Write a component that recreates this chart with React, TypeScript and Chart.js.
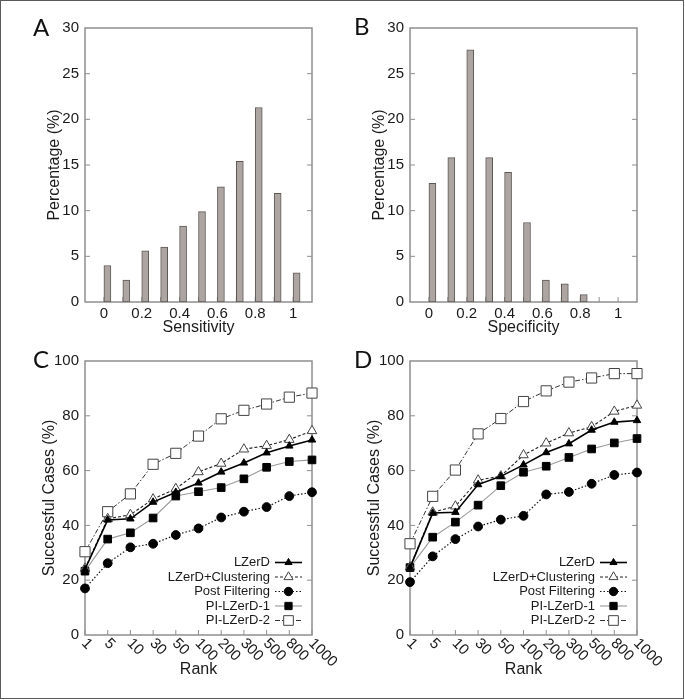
import React, { useEffect, useRef } from 'react';
import { Chart, registerables } from 'chart.js';

Chart.register(...registerables);

const FONT = '"Liberation Sans", Arial, Helvetica, sans-serif';
const LETTER_FONT = 'Lato, "Open Sans", sans-serif';
const TEXT = '#1a1a1a';
const FRAME = '#8f8f8f';
const BAR_FILL = '#aca5a1';
const BAR_EDGE = '#5f5956';

// ---------- data ----------
const histBins = [0, 0.1, 0.2, 0.3, 0.4, 0.5, 0.6, 0.7, 0.8, 0.9, 1.0];
const histTickValues = [0, 0.2, 0.4, 0.6, 0.8, 1];
const histTickLabels = ['0', '0.2', '0.4', '0.6', '0.8', '1'];
const sensitivityPct = [4.0, 2.4, 5.6, 6.0, 8.3, 9.9, 12.6, 15.4, 21.3, 11.9, 3.2];
const specificityPct = [13.0, 15.8, 27.6, 15.8, 14.2, 8.7, 2.4, 2.0, 0.8, 0, 0];

const ranks = ['1', '5', '10', '30', '50', '100', '200', '300', '500', '800', '1000'];
const seriesNames = ['LZerD', 'LZerD+Clustering', 'Post Filtering', 'PI-LZerD-1', 'PI-LZerD-2'];

const cLZerD = [24.0, 42.0, 42.4, 48.5, 52.1, 55.5, 59.5, 62.8, 66.5, 69.0, 71.2];
const cClustering = [24.3, 42.4, 43.9, 49.6, 53.4, 59.5, 62.6, 67.8, 69.1, 71.3, 74.5];
const cPostFiltering = [17.0, 26.2, 32.0, 33.3, 36.5, 38.9, 42.9, 45.0, 46.7, 50.7, 52.1];
const cPI1 = [23.3, 35.0, 37.3, 42.7, 50.7, 52.3, 53.8, 57.0, 61.2, 63.3, 63.9];
const cPI2 = [30.4, 45.0, 51.5, 62.3, 66.3, 72.6, 78.9, 82.0, 84.3, 86.8, 88.3];

const dLZerD = [24.6, 44.5, 44.8, 54.9, 57.9, 62.1, 66.6, 69.8, 74.8, 77.7, 78.3];
const dClustering = [24.8, 44.8, 47.0, 56.5, 58.0, 65.7, 70.0, 73.7, 76.0, 81.6, 83.8];
const dPostFiltering = [19.3, 28.7, 35.0, 39.6, 42.1, 43.5, 51.3, 52.2, 55.2, 58.4, 59.3];
const dPI1 = [24.6, 35.7, 41.2, 47.4, 54.5, 59.4, 61.6, 64.8, 67.9, 70.1, 71.7];
const dPI2 = [33.3, 50.6, 60.2, 73.4, 79.0, 85.2, 89.1, 92.3, 93.8, 95.4, 95.4];

// ---------- styles ----------
const seriesStyles = [
  { borderColor: '#000000', borderWidth: 1.6, borderDash: [] as number[], pointStyle: 'triangle', pointRadius: 4.3, fill: '#000000', edge: '#000000' },
  { borderColor: '#222222', borderWidth: 1.1, borderDash: [3, 2], pointStyle: 'triangle', pointRadius: 5.5, fill: '#ffffff', edge: '#444444' },
  { borderColor: '#111111', borderWidth: 1.2, borderDash: [1.5, 2], pointStyle: 'circle', pointRadius: 4.4, fill: '#000000', edge: '#000000' },
  { borderColor: '#9a9a9a', borderWidth: 1.1, borderDash: [] as number[], pointStyle: 'rect', pointRadius: 5.4, fill: '#000000', edge: '#000000' },
  { borderColor: '#333333', borderWidth: 1.0, borderDash: [5, 2, 1.5, 2], pointStyle: 'rect', pointRadius: 7.2, fill: '#ffffff', edge: '#444444' },
];

function drawMarker(ctx: CanvasRenderingContext2D, style: string, x: number, y: number, r: number, fill: string, edge: string) {
  ctx.save();
  ctx.setLineDash([]);
  ctx.fillStyle = fill;
  ctx.strokeStyle = edge;
  ctx.lineWidth = 1;
  ctx.beginPath();
  if (style === 'triangle') {
    let rad = 0;
    ctx.moveTo(x + Math.sin(rad) * r, y - Math.cos(rad) * r);
    rad += (2 * Math.PI) / 3;
    ctx.lineTo(x + Math.sin(rad) * r, y - Math.cos(rad) * r);
    rad += (2 * Math.PI) / 3;
    ctx.lineTo(x + Math.sin(rad) * r, y - Math.cos(rad) * r);
    ctx.closePath();
  } else if (style === 'circle') {
    ctx.arc(x, y, r, 0, Math.PI * 2);
  } else {
    const s = r * Math.SQRT1_2;
    ctx.rect(x - s, y - s, 2 * s, 2 * s);
  }
  ctx.fill();
  ctx.stroke();
  ctx.restore();
}

type PanelSpec = { letter: string; letterX: number; letterY: number; kind: 'hist' | 'line' };

function makePanelPlugin(p: PanelSpec) {
  return {
    id: 'panel' + p.letter,
    beforeDatasetsDraw(chart: any) {
      const { ctx, chartArea: a, scales } = chart;
      ctx.save();
      ctx.strokeStyle = FRAME;
      ctx.lineWidth = 1.5;
      ctx.strokeRect(a.left, a.top, a.right - a.left, a.bottom - a.top);
      ctx.lineWidth = 1;
      const ys = scales.y;
      ys.ticks.forEach((t: any) => {
        const py = ys.getPixelForValue(t.value);
        if (Math.abs(py - a.top) < 1 || Math.abs(py - a.bottom) < 1) return;
        ctx.beginPath();
        ctx.moveTo(a.left, py);
        ctx.lineTo(a.left + 5, py);
        ctx.moveTo(a.right, py);
        ctx.lineTo(a.right - 5, py);
        ctx.stroke();
      });
      const xs = scales.x;
      const xPix = p.kind === 'hist'
        ? histBins.map((v) => xs.getPixelForValue(v))
        : ranks.map((_, i) => xs.getPixelForValue(i));
      xPix.forEach((px: number) => {
        ctx.beginPath();
        ctx.moveTo(px, a.bottom);
        ctx.lineTo(px, a.bottom - 5);
        ctx.stroke();
      });
      ctx.restore();
    },
    afterDraw(chart: any) {
      const { ctx, chartArea: a, scales } = chart;
      ctx.save();
      ctx.fillStyle = '#111';
      ctx.font = `24px ${LETTER_FONT}`;
      ctx.textAlign = 'left';
      ctx.textBaseline = 'alphabetic';
      ctx.fillText(p.letter, p.letterX, p.letterY);

      if (p.kind === 'line') {
        const xs = scales.x;
        ctx.font = `15px ${FONT}`;
        ctx.fillStyle = TEXT;
        ranks.forEach((lab, i) => {
          const px = xs.getPixelForValue(i);
          ctx.save();
          ctx.translate(px - 1, a.bottom + 6);
          ctx.rotate(Math.PI / 4);
          ctx.textAlign = 'left';
          ctx.textBaseline = 'middle';
          ctx.fillText(lab, 0, 0);
          ctx.restore();
        });

        // legend
        const ds = chart.data.datasets;
        ds.forEach((d: any, i: number) => {
          const y = a.bottom - 72.5 + i * 14.5;
          const st = seriesStyles[i];
          ctx.font = `13px ${FONT}`;
          ctx.fillStyle = TEXT;
          ctx.textAlign = 'right';
          ctx.textBaseline = 'middle';
          ctx.fillText(d.label, a.right - 42, y);
          ctx.save();
          ctx.strokeStyle = st.borderColor;
          ctx.lineWidth = st.borderWidth;
          ctx.setLineDash(st.borderDash);
          ctx.beginPath();
          ctx.moveTo(a.right - 37, y);
          ctx.lineTo(a.right - 10, y);
          ctx.stroke();
          ctx.restore();
          drawMarker(ctx, st.pointStyle, a.right - 23.5, y, st.pointRadius * 0.95, st.fill, st.edge);
        });
      }
      ctx.restore();
    },
  };
}

function histConfig(values: number[], xTitle: string, spec: PanelSpec, yTitlePad: number): any {
  return {
    type: 'bar',
    data: {
      datasets: [
        { label: '_spacer', data: [], barThickness: 7 },
        {
          label: xTitle,
          data: histBins.map((b, i) => ({ x: b, y: values[i] })),
          backgroundColor: BAR_FILL,
          borderColor: BAR_EDGE,
          borderWidth: 1,
          borderSkipped: false,
          barThickness: 7,
        },
      ],
    },
    options: {
      responsive: false,
      animation: false,
      layout: { padding: { top: 28, right: 28, left: 0, bottom: 0 } },
      plugins: { legend: { display: false }, tooltip: { enabled: false } },
      scales: {
        x: {
          type: 'linear',
          offset: false,
          min: -0.1,
          max: 1.1,
          afterBuildTicks: (s: any) => {
            s.ticks = histTickValues.map((v) => ({ value: v }));
          },
          ticks: {
            callback: (_v: any, i: number) => histTickLabels[i],
            font: { family: FONT, size: 15 },
            color: TEXT,
            padding: 3,
            maxRotation: 0,
            autoSkip: false,
          },
          grid: { display: false, drawTicks: false },
          border: { display: false },
          title: { display: true, text: xTitle, font: { family: FONT, size: 16 }, color: TEXT, padding: { top: 0, bottom: 7.4 } },
          afterFit: (s: any) => { s.height = 43; },
        },
        y: {
          min: 0,
          max: 30,
          ticks: { stepSize: 5, font: { family: FONT, size: 15 }, color: TEXT, padding: 6 },
          grid: { display: false, drawTicks: false },
          border: { display: false },
          title: { display: true, text: 'Percentage (%)', font: { family: FONT, size: 16 }, color: TEXT, padding: { top: yTitlePad, bottom: 0 } },
          afterFit: (s: any) => { s.width = 85; },
        },
      },
    },
    plugins: [makePanelPlugin(spec)],
  };
}

function lineConfig(series: number[][], spec: PanelSpec, yTitlePad: number): any {
  return {
    type: 'line',
    data: {
      labels: ranks,
      datasets: series.map((vals, i) => {
        const st = seriesStyles[i];
        return {
          label: seriesNames[i],
          data: vals,
          borderColor: st.borderColor,
          borderWidth: st.borderWidth,
          borderDash: st.borderDash,
          pointStyle: st.pointStyle,
          pointRadius: st.pointRadius,
          pointBackgroundColor: st.fill,
          pointBorderColor: st.edge,
          pointBorderWidth: 1,
          tension: 0,
          fill: false,
          clip: false,
        };
      }),
    },
    options: {
      responsive: false,
      animation: false,
      layout: { padding: { top: 28, right: 28, left: 0, bottom: 0 } },
      plugins: { legend: { display: false }, tooltip: { enabled: false } },
      scales: {
        x: {
          type: 'category',
          offset: false,
          ticks: { display: false },
          grid: { display: false, drawTicks: false },
          border: { display: false },
          title: { display: true, text: 'Rank', font: { family: FONT, size: 16 }, color: TEXT, padding: { top: 0, bottom: 15.4 } },
          afterFit: (s: any) => { s.height = 60; },
        },
        y: {
          min: 0,
          max: 100,
          ticks: { stepSize: 20, font: { family: FONT, size: 15 }, color: TEXT, padding: 6 },
          grid: { display: false, drawTicks: false },
          border: { display: false },
          title: { display: true, text: 'Successful Cases (%)', font: { family: FONT, size: 16 }, color: TEXT, padding: { top: yTitlePad, bottom: 0 } },
          afterFit: (s: any) => { s.width = 85; },
        },
      },
    },
    plugins: [makePanelPlugin(spec)],
  };
}

function Panel({ config, left, top, width, height }: { config: any; left: number; top: number; width: number; height: number }) {
  const ref = useRef<HTMLCanvasElement>(null);
  useEffect(() => {
    if (!ref.current) return;
    const chart = new Chart(ref.current, config);
    return () => chart.destroy();
  }, []);
  return (
    <canvas
      ref={ref}
      width={width}
      height={height}
      style={{ position: 'absolute', left, top, width, height }}
    />
  );
}

export default function App() {
  return (
    <div
      style={{
        position: 'absolute',
        left: 0,
        top: 0,
        width: 684,
        height: 699,
        boxSizing: 'border-box',
        border: '1px solid #5a5a5a',
        background: '#ffffff',
        overflow: 'hidden',
      }}
    >
      <Panel
        left={-1}
        top={-1}
        width={340}
        height={345}
        config={histConfig(sensitivityPct, 'Sensitivity', { letter: 'A', letterX: 33, letterY: 36, kind: 'hist' }, 45.4)}
      />
      <Panel
        left={324}
        top={-1}
        width={340}
        height={345}
        config={histConfig(specificityPct, 'Specificity', { letter: 'B', letterX: 29, letterY: 35, kind: 'hist' }, 45)}
      />
      <Panel
        left={-1}
        top={332}
        width={340}
        height={362}
        config={lineConfig([cLZerD, cClustering, cPostFiltering, cPI1, cPI2], { letter: 'C', letterX: 33, letterY: 35, kind: 'line' }, 40.4)}
      />
      <Panel
        left={324}
        top={332}
        width={340}
        height={362}
        config={lineConfig([dLZerD, dClustering, dPostFiltering, dPI1, dPI2], { letter: 'D', letterX: 29, letterY: 35, kind: 'line' }, 40)}
      />
    </div>
  );
}
